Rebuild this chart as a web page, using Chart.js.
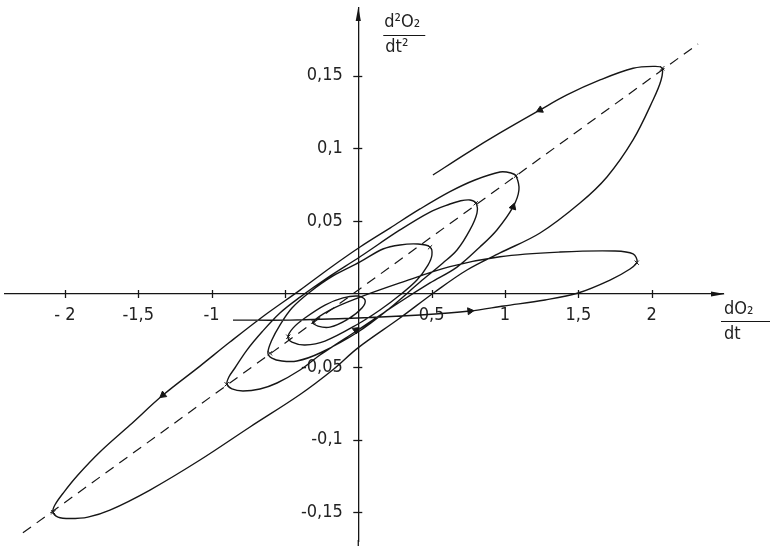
<!DOCTYPE html>
<html>
<head>
<meta charset="utf-8">
<script src="https://cdn.jsdelivr.net/npm/chart.js@4.4.1/dist/chart.umd.min.js"></script>
<style>
  html, body { margin: 0; padding: 0; background: #fff; }
  #wrap { width: 771px; height: 546px; }
</style>
</head>
<body>
<div id="wrap"><canvas id="phase" width="771" height="546"></canvas></div>
<script>
// axis ticks
const xTicks = [-2, -1.5, -1, -0.5, 0.5, 1, 1.5, 2];
const yTicks = [-0.15, -0.1, -0.05, 0.05, 0.1, 0.15];
const xTickText = { '-2': '- 2', '-1.5': '-1,5', '-1': '-1', '-0.5': '', '0.5': '0,5', '1': '1', '1.5': '1,5', '2': '2' };
const yTickText = { '-0.15': '-0,15', '-0.1': '-0,1', '-0.05': '-0,05', '0.05': '0,05', '0.1': '0,1', '0.15': '0,15' };

const startRun = [[-0.854, -0.0179], [-0.466, -0.0179], [-0.002, -0.0165], [0.421, -0.0144], [0.761, -0.0117],
  [0.993, -0.0082], [1.273, -0.0041], [1.498, 0.0007], [1.716, 0.0096], [1.852, 0.0172], [1.900, 0.0220]];
const rightReturn = [[1.873, 0.0275], [1.750, 0.0295], [1.375, 0.0288], [0.966, 0.0256], [0.625, 0.0188],
  [0.284, 0.0076], [-0.002, -0.0027], [-0.193, -0.0110], [-0.309, -0.0192]];
const smallLoop = [[-0.275, -0.0220], [-0.193, -0.0227], [-0.070, -0.0172], [0.025, -0.0096], [0.046, -0.0041],
  [-0.002, -0.0014], [-0.104, -0.0027], [-0.227, -0.0076], [-0.364, -0.0165], [-0.445, -0.0234], [-0.479, -0.0295]];
const toTurn049 = [[-0.452, -0.0330], [-0.363, -0.0350], [-0.227, -0.0323], [-0.002, -0.0206], [0.148, -0.0110],
  [0.284, -0.0007], [0.400, 0.0096], [0.475, 0.0199], [0.502, 0.0268], [0.489, 0.0323]];
const fromTurn049 = [[0.407, 0.0343], [0.284, 0.0337], [0.168, 0.0309], [0.012, 0.0220], [-0.172, 0.0124],
  [-0.329, 0.0014], [-0.452, -0.0096], [-0.534, -0.0213], [-0.589, -0.0316], [-0.616, -0.0405]];
const toTurn080 = [[-0.589, -0.0440], [-0.521, -0.0460], [-0.418, -0.0460], [-0.261, -0.0405], [-0.002, -0.0261],
  [0.216, -0.0096], [0.421, 0.0082], [0.577, 0.0213], [0.673, 0.0302], [0.761, 0.0440], [0.809, 0.0556], [0.802, 0.0625]];
const fromTurn080 = [[0.761, 0.0646], [0.693, 0.0639], [0.625, 0.0618], [0.489, 0.0563], [0.284, 0.0440],
  [0.012, 0.0256], [-0.213, 0.0110], [-0.397, -0.0021], [-0.534, -0.0130], [-0.657, -0.0261], [-0.759, -0.0385],
  [-0.841, -0.0508], [-0.882, -0.0570], [-0.895, -0.0618]];
const toTurn108 = [[-0.861, -0.0652], [-0.786, -0.0666], [-0.670, -0.0652], [-0.554, -0.0611], [-0.397, -0.0522],
  [-0.261, -0.0419], [-0.002, -0.0247], [0.284, -0.0055], [0.489, 0.0076], [0.673, 0.0185], [0.829, 0.0323],
  [0.945, 0.0440], [1.055, 0.0598], [1.095, 0.0714], [1.075, 0.0810]];
const fromTurn108 = [[1.041, 0.0831], [0.966, 0.0838], [0.795, 0.0783], [0.625, 0.0703], [0.421, 0.0584],
  [0.216, 0.0453], [0.012, 0.0323], [-0.193, 0.0179], [-0.397, 0.0027], [-0.636, -0.0144], [-0.875, -0.0330],
  [-1.079, -0.0495], [-1.331, -0.0694], [-1.556, -0.0900], [-1.761, -0.1085], [-1.911, -0.1243], [-2.006, -0.1360],
  [-2.068, -0.1449], [-2.081, -0.1497]];
const toTurn207 = [[-2.047, -0.1532], [-1.965, -0.1542], [-1.843, -0.1532], [-1.693, -0.1484], [-1.420, -0.1346],
  [-1.079, -0.1140], [-0.738, -0.0913], [-0.397, -0.0690], [-0.173, -0.0520], [-0.002, -0.0370], [0.284, -0.0165],
  [0.522, 0.0014], [0.741, 0.0165], [0.966, 0.0282], [1.239, 0.0419], [1.511, 0.0625], [1.695, 0.0804],
  [1.873, 0.1058], [2.009, 0.1332], [2.064, 0.1470], [2.070, 0.1552]];
const fromTurn207 = [[2.009, 0.1563], [1.873, 0.1550], [1.648, 0.1470], [1.422, 0.1367], [1.239, 0.1264],
  [0.966, 0.1106], [0.741, 0.0968], [0.509, 0.0817]];

// turning points marked with small crosses
const turnX = [2.072, 1.075, 0.800, 0.489, 1.898, -0.307, -0.477, -0.602, -0.897, -2.079];
const turnY = [0.1550, 0.0812, 0.0623, 0.0321, 0.0215, -0.0190, -0.0293, -0.0407, -0.0620, -0.1499];

// direction arrows on the trajectory (position + heading in degrees)
const arrowX = [1.239, 1.055, 0.761, -1.331, -0.016];
const arrowY = [0.1264, 0.0598, -0.0117, -0.0694, -0.0247];
const arrowDir = [245, 19, 84, 232, 53];

// dashed reference line
const refLineX = [-2.286, 2.316];
const refLineY = [-0.164, 0.1717];

const ink = '#161616';
const labelFont = "'DejaVu Sans Condensed', 'Liberation Sans Narrow', 'Liberation Sans', sans-serif";

const toPoints = arr => arr.map(([x, y]) => ({ x, y }));
const trajectory = toPoints([].concat(startRun, rightReturn, smallLoop, toTurn049, fromTurn049, toTurn080,
  fromTurn080, toTurn108, fromTurn108, toTurn207, fromTurn207));

// axes sit inside the plot, so they should not push the plot area inwards
const noPadding = scale => {
    scale.paddingTop = 0;
    scale.paddingBottom = 0;
    scale.paddingLeft = 0;
    scale.paddingRight = 0;
};

// axis arrows, crossing tick marks and the fraction titles
const axesDecor = {
    id: 'axesDecor',
    afterDraw(chart) {
        const { ctx, scales: { x, y } } = chart;
        const x0 = x.getPixelForValue(0);
        const y0 = y.getPixelForValue(0);
        const area = chart.chartArea;
        ctx.save();
        ctx.strokeStyle = ink;
        ctx.fillStyle = ink;
        ctx.lineWidth = 1.3;

        // the vertical axis runs on to the bottom edge
        ctx.beginPath();
        ctx.moveTo(x0, area.bottom - 1);
        ctx.lineTo(x0, chart.height);
        ctx.stroke();

        // tick marks across the axes
        xTicks.forEach(v => {
            const px = Math.round(x.getPixelForValue(v)) + 0.5;
            ctx.beginPath();
            ctx.moveTo(px, y0 - 4);
            ctx.lineTo(px, y0 + 4);
            ctx.stroke();
        });
        yTicks.forEach(v => {
            const py = Math.round(y.getPixelForValue(v)) + 0.5;
            ctx.beginPath();
            ctx.moveTo(x0 - 5, py);
            ctx.lineTo(x0 + 4, py);
            ctx.stroke();
        });

        // arrow heads
        ctx.beginPath();
        ctx.moveTo(area.right + 2, y0);
        ctx.lineTo(area.right - 12, y0 - 2.6);
        ctx.lineTo(area.right - 12, y0 + 2.6);
        ctx.closePath();
        ctx.fill();
        ctx.beginPath();
        ctx.moveTo(x0, area.top - 1);
        ctx.lineTo(x0 - 2.6, area.top + 13);
        ctx.lineTo(x0 + 2.6, area.top + 13);
        ctx.closePath();
        ctx.fill();

        // axis titles drawn as fractions
        ctx.fillStyle = '#222';
        ctx.textBaseline = 'middle';
        ctx.textAlign = 'left';
        ctx.font = "18px " + labelFont;
        ctx.fillText('d²O₂', x0 + 26, 22);
        ctx.fillText('dt²', x0 + 27, 47);
        ctx.lineWidth = 1;
        ctx.beginPath();
        ctx.moveTo(x0 + 25, 35.5);
        ctx.lineTo(x0 + 67, 35.5);
        ctx.stroke();

        ctx.fillText('dO₂', area.right + 1, y0 + 15);
        ctx.fillText('dt', area.right + 1, y0 + 40);
        ctx.beginPath();
        ctx.moveTo(area.right - 2, y0 + 27.5);
        ctx.lineTo(area.right + 47, y0 + 27.5);
        ctx.stroke();
        ctx.restore();
    }
};

const ctx = document.getElementById('phase').getContext('2d');
new Chart(ctx, {
    type: 'scatter',
    data: {
        datasets: [
            {
                label: 'reference',
                data: refLineX.map((v, i) => ({ x: v, y: refLineY[i] })),
                showLine: true,
                borderColor: ink,
                borderWidth: 1.2,
                borderDash: [10, 7],
                pointRadius: 0
            },
            {
                label: 'trajectory',
                data: trajectory,
                showLine: true,
                tension: 0.35,
                borderColor: ink,
                borderWidth: 1.4,
                pointRadius: 0
            },
            {
                label: 'turns',
                data: turnX.map((v, i) => ({ x: v, y: turnY[i] })),
                pointStyle: 'crossRot',
                pointRadius: 3,
                borderColor: ink,
                borderWidth: 1
            },
            {
                label: 'arrows',
                data: arrowX.map((v, i) => ({ x: v, y: arrowY[i] })),
                pointStyle: 'triangle',
                pointRadius: 4,
                rotation: arrowDir,
                backgroundColor: ink,
                borderColor: ink,
                borderWidth: 1
            }
        ]
    },
    options: {
        responsive: false,
        animation: false,
        devicePixelRatio: 1,
        layout: { padding: { left: 5, right: 48, top: 8, bottom: 0 } },
        plugins: {
            legend: { display: false },
            tooltip: { enabled: false }
        },
        scales: {
            x: {
                type: 'linear',
                min: -2.408,
                max: 2.486,
                position: { y: 0 },
                grid: { display: false },
                border: { display: true, color: ink, width: 1.3 },
                afterBuildTicks: scale => { scale.ticks = xTicks.map(v => ({ value: v })); },
                afterFit: noPadding,
                ticks: {
                    padding: 3,
                    color: '#222',
                    font: { family: labelFont, size: 18 },
                    maxRotation: 0,
                    autoSkip: false,
                    callback: v => xTickText[String(v)] ?? ''
                }
            },
            y: {
                type: 'linear',
                min: -0.1696,
                max: 0.1964,
                position: { x: 0 },
                grid: { display: false },
                border: { display: true, color: ink, width: 1.3 },
                afterBuildTicks: scale => { scale.ticks = yTicks.map(v => ({ value: v })); },
                afterFit: noPadding,
                ticks: {
                    padding: 8,
                    color: '#222',
                    font: { family: labelFont, size: 18 },
                    autoSkip: false,
                    callback: v => (yTickText[String(v)] ?? '') + '   '
                }
            }
        }
    },
    plugins: [axesDecor]
});
</script>
</body>
</html>
